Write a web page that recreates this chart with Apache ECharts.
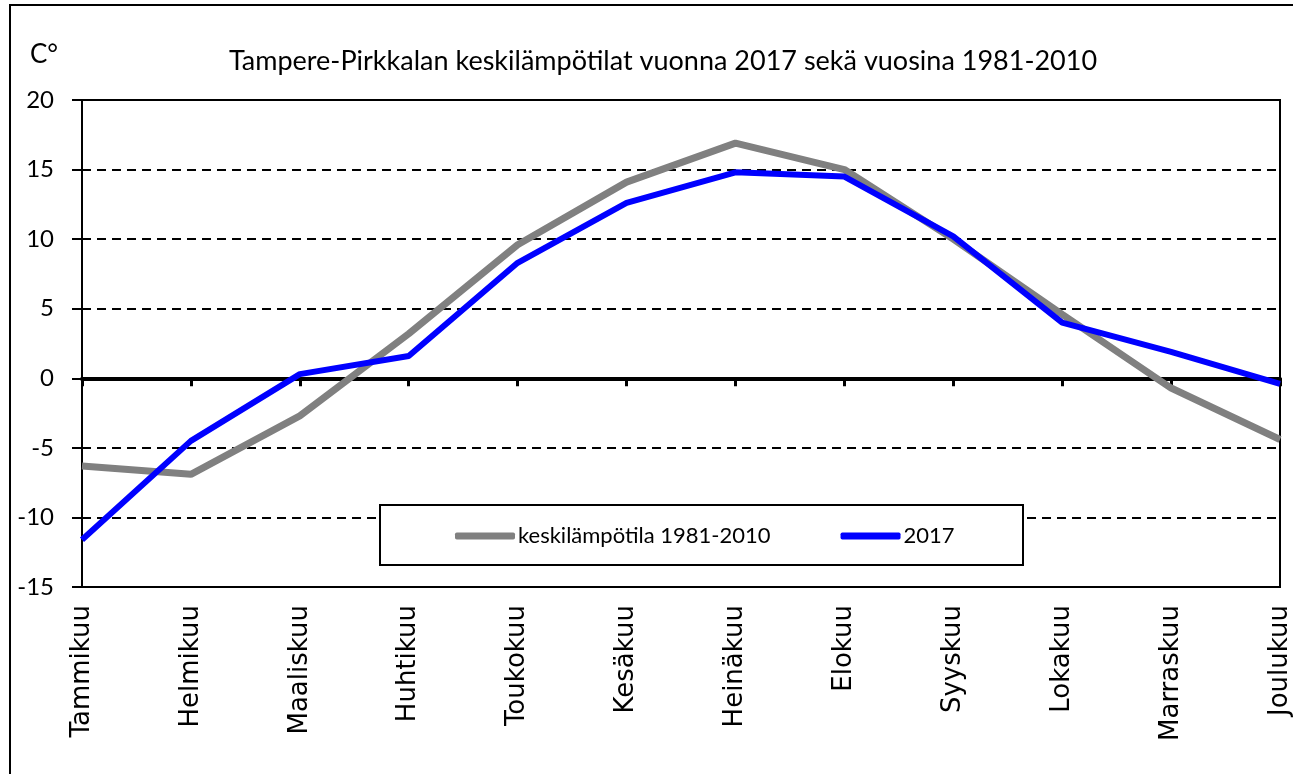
<!DOCTYPE html>
<html>
<head>
<meta charset="utf-8">
<script src="https://cdn.jsdelivr.net/npm/echarts@6/dist/echarts.min.js"></script>
<style>html,body{margin:0;padding:0;background:#fff;}#c{width:1293px;height:774px;}</style>
</head>
<body>
<div id="c"></div>
<script>
const months = ["Tammikuu","Helmikuu","Maaliskuu","Huhtikuu","Toukokuu","Kesäkuu","Heinäkuu","Elokuu","Syyskuu","Lokakuu","Marraskuu","Joulukuu"];
const normal = [-6.3,-6.9,-2.7,3.2,9.6,14.1,16.9,15.0,10.0,4.6,-0.7,-4.4];
const year2017 = [-11.6,-4.5,0.3,1.6,8.3,12.6,14.8,14.5,10.2,4.0,1.9,-0.4];
const seriesNames = ["keskilämpötila 1981-2010","2017"];
const titleText = "Tampere-Pirkkalan keskilämpötilat vuonna 2017 sekä vuosina 1981-2010";
const unitText = "C°";

const chart = echarts.init(document.getElementById('c'));
chart.setOption({
  animation: false,
  backgroundColor: '#fff',
  title: {
    text: titleText,
    left: 658, top: 43, textAlign: 'center',
    textStyle: {fontFamily: 'Lato', fontSize: 27, fontWeight: 'normal', color: '#000'}
  },
  graphic: [
    {type: 'rect', z: 0, shape: {x: 10, y: 5, width: 1300, height: 800}, style: {fill: null, stroke: '#000', lineWidth: 2}},
    {type: 'text', z: 10, left: 30, top: 42, style: {text: unitText, font: '26px Lato', fill: '#000'}},
    {type: 'rect', z: 10, shape: {x: 380, y: 505, width: 643, height: 60}, style: {fill: '#fff', stroke: '#000', lineWidth: 2}}
  ],
  legend: {
    z: 20,
    left: 455, top: 525,
    itemWidth: 60, itemHeight: 7, itemGap: 70,
    icon: 'roundRect',
    padding: 0,
    textStyle: {fontFamily: 'Lato', fontSize: 22, color: '#000', padding: [0,0,0,-2]},
    data: seriesNames
  },
  grid: {left: 82, right: 11, top: 100, bottom: 187, show: true, borderColor: '#000', borderWidth: 2, backgroundColor: 'transparent'},
  xAxis: [
    {
      type: 'category', data: months, boundaryGap: false,
      axisLine: {onZero: true, lineStyle: {color: '#000', width: 4}},
      axisTick: {show: true, alignWithLabel: true, length: 8, lineStyle: {color: '#000', width: 3}},
      axisLabel: {show: false},
      splitLine: {show: false}
    },
    {
      type: 'category', data: months, boundaryGap: false, position: 'bottom',
      axisLine: {show: false}, axisTick: {show: false},
      axisLabel: {rotate: 90, margin: 18, interval: 0, fontFamily: 'DejaVu Sans', fontSize: 26, color: '#000'},
      splitLine: {show: false}
    }
  ],
  yAxis: {
    type: 'value', min: -15, max: 20, interval: 5,
    axisLine: {show: true, onZero: false, lineStyle: {color: '#000', width: 2}},
    axisTick: {show: true, length: 10, lineStyle: {color: '#000', width: 2}},
    axisLabel: {margin: 28, fontFamily: 'Lato', fontSize: 24, color: '#000'},
    splitLine: {show: true, lineStyle: {color: '#000', width: 2, type: [9, 6]}}
  },
  series: [
    {name: seriesNames[0], type: 'line', data: normal, showSymbol: false, symbol: 'none', z: 3,
     lineStyle: {color: '#808080', width: 7}, itemStyle: {color: '#808080'}},
    {name: seriesNames[1], type: 'line', data: year2017, showSymbol: false, symbol: 'none', z: 4,
     lineStyle: {color: '#0000ff', width: 6}, itemStyle: {color: '#0000ff'}}
  ]
});
</script>
</body>
</html>
